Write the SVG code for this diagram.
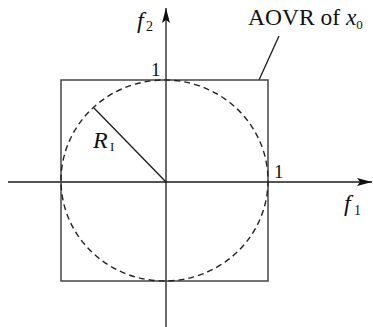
<svg xmlns="http://www.w3.org/2000/svg" width="373" height="327" viewBox="0 0 373 327">
<style>
.ax{stroke:#1a1a1a;stroke-width:1.3;fill:none}
.rc{stroke:#444;stroke-width:1.5;fill:none}
.ci{stroke:#222;stroke-width:1.4;fill:none;stroke-dasharray:6 4}
.t{font-family:"Liberation Serif",serif;fill:#111}
.i{font-style:italic}
</style>
<defs>
<marker id="ar" markerWidth="16" markerHeight="10" refX="15" refY="5" orient="auto" markerUnits="userSpaceOnUse">
<path d="M0,1 L15,5 L0,9 L3,5 Z" fill="#111"/>
</marker>
</defs>
<g id="connectors">
<line class="ax" x1="8" y1="182" x2="372" y2="182" marker-end="url(#ar)"/>
<line class="ax" x1="166" y1="327" x2="166" y2="8" marker-end="url(#ar)"/>
<line class="ax" x1="166" y1="182" x2="94" y2="108"/>
<line class="ax" x1="279" y1="36" x2="259" y2="80"/>
</g>
<g id="square"><rect class="rc" x="61" y="80" width="207" height="201"/></g>
<g id="circle"><ellipse class="ci" cx="164.5" cy="180.5" rx="103.5" ry="100.5"/></g>
<g id="labels">
<text class="t i" x="137" y="28" font-size="24">f</text>
<text class="t" x="146" y="31" font-size="14">2</text>
<text class="t" x="248" y="25" font-size="23.5">AOVR of <tspan class="i">x</tspan><tspan font-size="13" dy="4">0</tspan></text>
<text class="t" x="151" y="76" font-size="19">1</text>
<text class="t" x="274" y="178" font-size="19">1</text>
<text class="t i" x="93" y="148" font-size="24">R</text>
<text class="t" x="110" y="151" font-size="13">I</text>
<text class="t i" x="344" y="211" font-size="24">f</text>
<text class="t" x="354" y="215" font-size="14">1</text>
</g>
</svg>
